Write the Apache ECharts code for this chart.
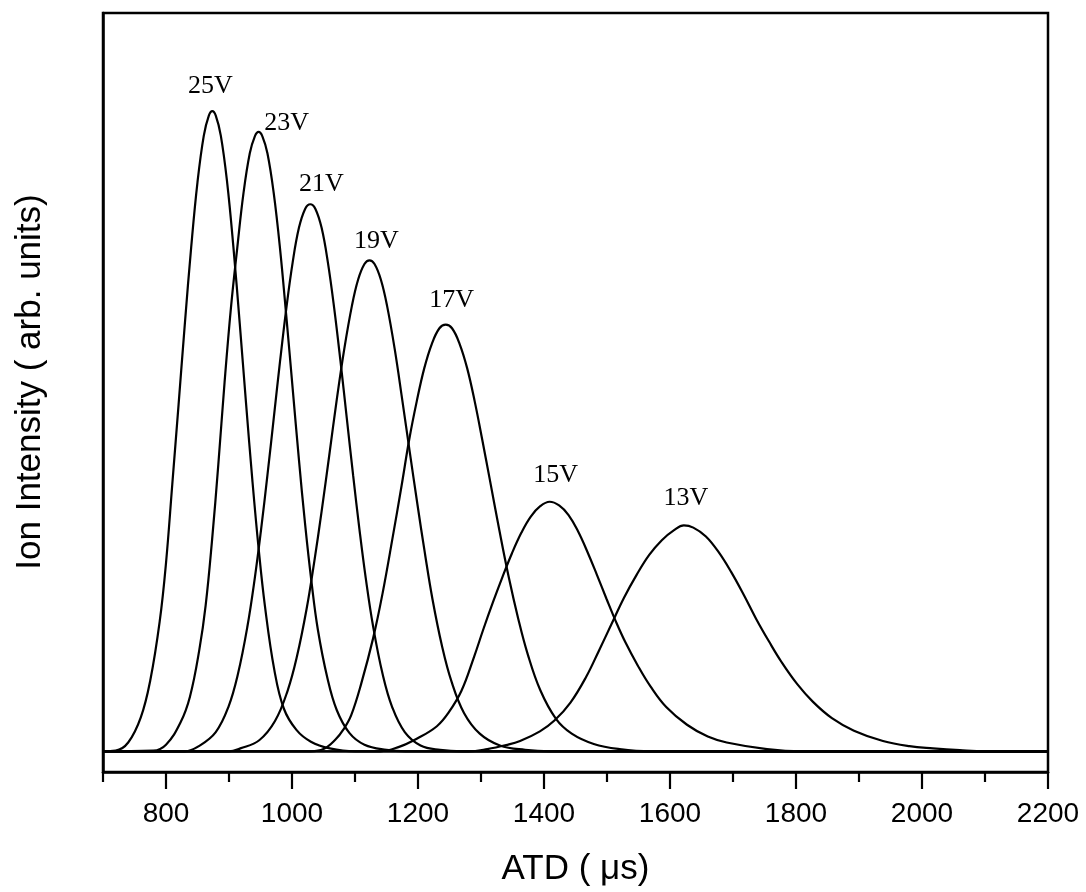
<!DOCTYPE html>
<html>
<head>
<meta charset="utf-8">
<script src="https://cdn.jsdelivr.net/npm/echarts@6/dist/echarts.min.js"></script>
<style>
html,body{margin:0;padding:0;background:#fff;}
#chart{width:1086px;height:892px;}
</style>
</head>
<body>
<div id="chart"></div>
<script>
// ---- data (x: ATD in µs, y: intensity, arb. units) ----
const curve25V = [[700,0],[720,0.1],[740,1.2],[760,4.6],[775,9.6],[790,17.6],[800,25.5],[810,36.2],[820,47.0],[830,58.0],[840,68.3],[850,77.1],[860,83.4],[868,86.1],[873.5,86.7],[879,86.1],[887,83.4],[897,77.1],[907,68.3],[917,58.0],[927,47.2],[937,36.8],[947,27.5],[957,19.7],[972,11.0],[987,5.8],[1007,2.9],[1030,1.3],[1060,0.4],[1100,0],[2200,0]];
const curve23V = [[700,0],[780,0.1],[800,0.9],[823,3.9],[838,7.4],[853,13.8],[863,19.8],[873,28.5],[883,38.8],[893,50.0],[903,60.0],[913,68.1],[923,75.6],[933,81.0],[941,83.3],[947,83.9],[953,83.3],[961,81.0],[971,75.6],[981,68.1],[991,58.9],[1001,49.2],[1011,39.5],[1021,30.6],[1031,22.9],[1041,16.5],[1056,10.0],[1071,5.6],[1091,2.5],[1115,0.9],[1150,0.2],[1180,0],[2200,0]];
const curve21V = [[700,0],[830,0],[854,0.8],[879,2.6],[899,6.0],[914,10.4],[929,16.8],[941,23.5],[951,30.1],[961,37.4],[971,45.1],[981,52.8],[991,60.0],[1001,66.2],[1011,70.9],[1021,73.5],[1029,74.1],[1037,73.5],[1047,70.9],[1057,66.2],[1067,60.0],[1077,52.8],[1087,45.1],[1097,37.4],[1107,30.1],[1117,23.5],[1129,16.8],[1144,10.4],[1159,6.0],[1179,2.6],[1204,0.8],[1235,0.2],[1270,0],[2200,0]];
const curve19V = [[700,0],[900,0],[918,0.4],[948,1.5],[973,4.1],[993,8.2],[1008,12.9],[1023,19.2],[1035,25.5],[1047,32.5],[1059,40.0],[1071,47.6],[1083,54.5],[1095,60.3],[1105,63.9],[1115,66.0],[1123,66.5],[1131,66.0],[1141,63.9],[1151,60.3],[1163,54.5],[1175,47.6],[1187,40.5],[1199,33.5],[1211,26.8],[1223,20.6],[1238,14.3],[1253,9.5],[1273,5.2],[1298,2.4],[1330,0.8],[1370,0.2],[1410,0],[2200,0]];
const curve17V = [[700,0],[1030,0],[1050,0.3],[1069,1.6],[1082,3.0],[1094,4.9],[1110,9.2],[1129,15.4],[1144,21.5],[1159,28.6],[1174,36.0],[1186,42.2],[1198,47.4],[1210,51.9],[1222,55.2],[1234,57.3],[1244,57.8],[1254,57.3],[1266,55.2],[1278,51.9],[1290,47.4],[1302,42.2],[1314,36.8],[1329,30.0],[1344,23.6],[1359,18.0],[1374,13.2],[1394,8.3],[1419,4.4],[1444,2.4],[1479,1.0],[1520,0.3],[1570,0],[2200,0]];
const curve15V = [[700,0],[1140,0],[1170,0.6],[1198,1.7],[1230,3.4],[1249,5.3],[1269,8.2],[1289,12.8],[1304,16.6],[1319,20.2],[1334,23.6],[1349,26.8],[1364,29.6],[1379,31.8],[1394,33.2],[1409,33.8],[1424,33.3],[1439,32.0],[1454,29.8],[1469,27.0],[1484,23.9],[1499,20.7],[1514,17.6],[1529,14.8],[1549,11.6],[1569,8.8],[1594,6.0],[1627,3.6],[1660,2.0],[1690,1.2],[1754,0.3],[1810,0],[2200,0]];
const curve13V = [[700,0],[1280,0],[1310,0.3],[1340,0.85],[1362,1.4],[1393.5,2.7],[1417,4.2],[1442,6.6],[1467,10.1],[1487,13.6],[1507,17.2],[1527,20.8],[1547,23.9],[1567,26.6],[1587,28.6],[1607,30.0],[1622,30.6],[1637,30.3],[1657,29.1],[1677,27.0],[1697,24.3],[1717,21.2],[1737,17.9],[1757,14.9],[1777,12.1],[1802,9.1],[1827,6.7],[1857,4.5],[1892,2.8],[1938,1.4],[1980,0.7],[2017.5,0.4],[2060,0.15],[2100,0],[2200,0]];

const seriesNames = ['25V','23V','21V','19V','17V','15V','13V'];
const curves = [curve25V, curve23V, curve21V, curve19V, curve17V, curve15V, curve13V];

const majorTicks = [800,1000,1200,1400,1600,1800,2000,2200];
const minorTicks = [700,900,1100,1300,1500,1700,1900,2100];

// ---- styles (label placement relative to each peak, in px) ----
const labelOffsets = {'25V':[-2,-25],'23V':[28,-9],'21V':[11,-20],'19V':[7,-19],'17V':[6,-24],'15V':[6,-27],'13V':[2,-27]};

const lineSeries = curves.map((c, i) => ({
  name: seriesNames[i],
  type: 'line',
  data: c,
  smooth: 0.4,
  showSymbol: false,
  silent: true,
  lineStyle: {color: '#000', width: 2.2},
  z: 3
}));

const peaks = curves.map((c, i) => {
  let best = c[0];
  c.forEach(p => { if (p[1] > best[1]) best = p; });
  return {name: seriesNames[i], value: [best[0], best[1]],
          label: {offset: labelOffsets[seriesNames[i]]}};
});

const labelSeries = {
  type: 'scatter',
  data: peaks,
  symbolSize: 0.1,
  itemStyle: {color: '#000', opacity: 1},
  silent: true,
  z: 5,
  label: {
    show: true,
    position: 'inside',
    formatter: p => p.name,
    color: '#000',
    textBorderWidth: 0,
    fontFamily: 'Liberation Serif',
    fontSize: 26,
    align: 'center',
    verticalAlign: 'middle'
  }
};

const chart = echarts.init(document.getElementById('chart'), null, {renderer: 'canvas'});
chart.setOption({
  backgroundColor: '#fff',
  animation: false,
  grid: {left: 103, right: 38, top: 13, bottom: 119, show: true, borderColor: '#000', borderWidth: 2.5, containLabel: false},
  xAxis: [
    {
      type: 'value', min: 700, max: 2200, interval: 100, position: 'bottom',
      axisLine: {show: true, onZero: false, lineStyle: {color: '#000', width: 2.5}},
      axisTick: {show: true, inside: false, length: 17, customValues: majorTicks, lineStyle: {color: '#000', width: 2.2}},
      axisLabel: {show: true, customValues: majorTicks, margin: 28, color: '#000', fontFamily: 'Liberation Sans', fontSize: 28,
                  formatter: v => String(v)},
      splitLine: {show: false},
      name: 'ATD ( \u03BCs)', nameLocation: 'middle', nameGap: 80,
      nameTextStyle: {color: '#000', fontFamily: 'Liberation Sans', fontSize: 35}
    },
    {
      type: 'value', min: 700, max: 2200, interval: 100, position: 'bottom',
      axisLine: {show: false, onZero: false},
      axisTick: {show: true, inside: false, length: 10, customValues: minorTicks, lineStyle: {color: '#000', width: 2.2}},
      axisLabel: {show: false},
      splitLine: {show: false}
    }
  ],
  yAxis: {
    type: 'value', min: -2.8, max: 100,
    axisLine: {show: true, onZero: false, lineStyle: {color: '#000', width: 2.5}},
    axisTick: {show: false},
    axisLabel: {show: false},
    splitLine: {show: false}
  },
  graphic: [{
    type: 'text', x: 30, y: 382, rotation: Math.PI / 2,
    style: {text: 'Ion Intensity ( arb. units)', fill: '#000', font: '35px "Liberation Sans"', textAlign: 'center', textVerticalAlign: 'middle'}
  }],
  series: lineSeries.concat([labelSeries])
});
</script>
</body>
</html>
